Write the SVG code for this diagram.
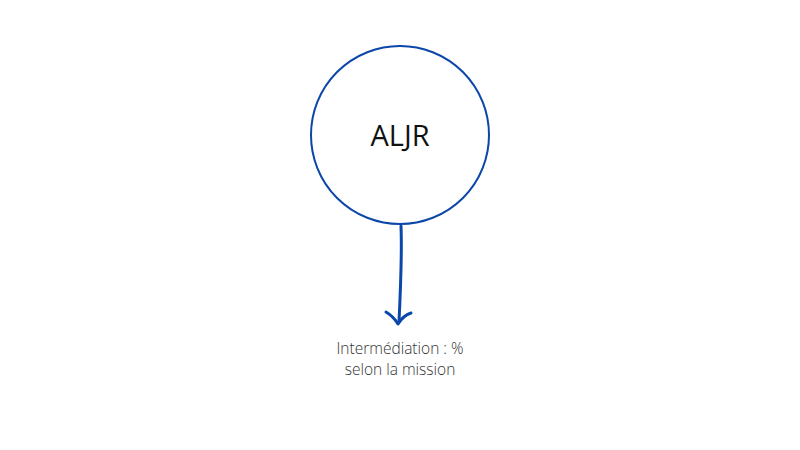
<svg xmlns="http://www.w3.org/2000/svg" width="800" height="450" viewBox="0 0 800 450">
<style>
.node{fill:#fff;stroke:#0b47a8;stroke-width:2}
.title{font-family:"Open Sans","Noto Sans",sans-serif;font-size:29px;fill:#111;text-anchor:middle}
.lbl{font-family:"Open Sans","Noto Sans",sans-serif;font-size:15.5px;font-weight:300;fill:#333;text-anchor:middle}
.conn{fill:none;stroke:#0b47a8;stroke-width:3;stroke-linecap:round;stroke-linejoin:round}
</style>
<rect width="800" height="450" fill="#fff"/>
<g id="node-aljr">
<circle class="node" cx="400" cy="135" r="89"/>
<text class="title" x="400" y="146">ALJR</text>
</g>
<g id="connectors">
<path class="conn" d="M401,226 C402,250 401,280 399,322"/>
<path class="conn" d="M386,312 C391,315 395,319 398,324 C401,319 405,315 411,313"/>
</g>
<g id="label">
<text class="lbl" x="400" y="354">Intermédiation : %</text>
<text class="lbl" x="400" y="375">selon la mission</text>
</g>
</svg>
